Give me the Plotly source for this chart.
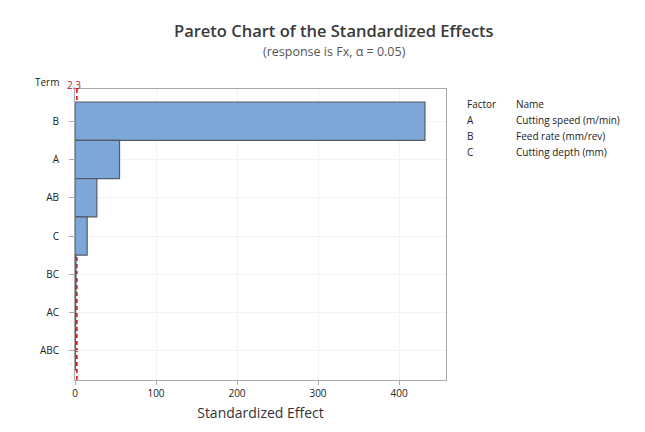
import plotly.graph_objects as go

terms = ["B", "A", "AB", "C", "BC", "AC", "ABC"]
effects = [432, 55, 27, 15, 1.2, 0.8, 0.5]
ref_value = 2.3
x_ticks = [0, 100, 200, 300, 400]
factors = ["A", "B", "C"]
names = ["Cutting speed (m/min)", "Feed rate (mm/rev)", "Cutting depth (mm)"]

n = len(terms)
ypos = [n - 1 - i for i in range(n)]

W, H = 637, 424
L, R, T, B = 67, 438, 81, 372  # plot area in figure pixels
PW, PH = R - L, B - T

def px(x):
    return (x - L) / PW

def py(y):
    return 1 - (y - T) / PH

font = "Open Sans, Noto Sans, sans-serif"
fig = go.Figure()
fig.add_trace(go.Bar(
    x=effects, y=ypos, orientation="h", width=1.0,
    marker=dict(color="#7DA7D9", line=dict(color="#555B63", width=1.2)),
    showlegend=False,
))
fig.add_shape(type="line", x0=ref_value, x1=ref_value, y0=0, y1=1, yref="paper",
              layer="below", line=dict(color="#E00000", width=1.5, dash="4px,3px"))
fig.add_annotation(x=px(66), y=py(77), xref="paper", yref="paper", text="2.3", showarrow=False,
                   yanchor="middle", xanchor="center",
                   font=dict(color="#B02020", size=10, family=font))
fig.add_annotation(x=px(39), y=py(74), xref="paper", yref="paper", text="Term", showarrow=False,
                   yanchor="middle", xanchor="center", font=dict(size=10, color="#222", family=font))

fig.add_annotation(x=px(326), y=py(22), xref="paper", yref="paper",
                   text="Pareto Chart of the Standardized Effects", showarrow=False,
                   xanchor="center", yanchor="middle",
                   font=dict(size=16.5, color="#3A3A3A", family=font, weight=600))
fig.add_annotation(x=px(326), y=py(43), xref="paper", yref="paper",
                   text="(response is Fx, α = 0.05)", showarrow=False,
                   xanchor="center", yanchor="middle",
                   font=dict(size=12.5, color="#555", family=font))

rows = [("Factor", "Name")] + list(zip(factors, names))
for i, (f, nm) in enumerate(rows):
    ypix = 96 + 16 * i
    fig.add_annotation(x=px(457), y=py(ypix), xref="paper", yref="paper", text=f,
                       showarrow=False, xanchor="left", yanchor="middle",
                       font=dict(size=10, color="#222", family=font))
    fig.add_annotation(x=px(506), y=py(ypix), xref="paper", yref="paper", text=nm,
                       showarrow=False, xanchor="left", yanchor="middle",
                       font=dict(size=10, color="#222", family=font))

fig.update_layout(
    width=W, height=H,
    margin=dict(l=L, r=W - R, t=T, b=H - B),
    paper_bgcolor="white", plot_bgcolor="white",
    font=dict(family=font, color="#222"),
    xaxis=dict(range=[0, 458], tickvals=x_ticks, showgrid=True, gridcolor="#F2F2F2",
               showline=True, linecolor="#AAAAAA", mirror=True, ticks="outside",
               ticklen=4, tickcolor="#AAAAAA", zeroline=False,
               tickfont=dict(size=10, color="#222"),
               title=dict(text="Standardized Effect", font=dict(size=14, color="#333"), standoff=9)),
    yaxis=dict(range=[-0.76, 6.84], tickvals=ypos, ticktext=terms, showgrid=True,
               gridcolor="#F2F2F2", showline=True, linecolor="#AAAAAA", mirror=True,
               ticks="outside", ticklen=5, tickcolor="#AAAAAA", zeroline=False,
               ticklabelstandoff=8,
               tickfont=dict(size=10, color="#222")),
)
fig.write_html("out.html")
